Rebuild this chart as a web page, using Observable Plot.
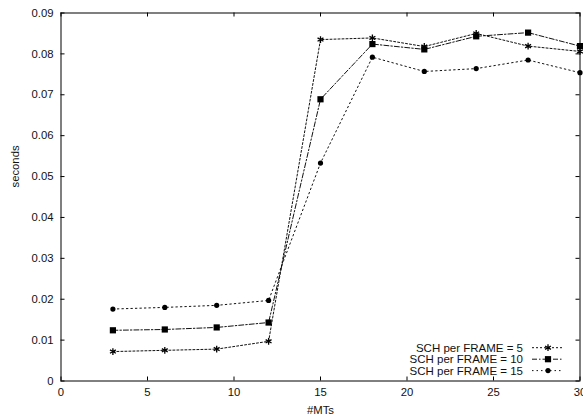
<!DOCTYPE html>
<html>
<head>
<meta charset="utf-8">
<script src="https://cdn.jsdelivr.net/npm/d3@7"></script>
<script src="https://cdn.jsdelivr.net/npm/@observablehq/plot@0.6"></script>
<style>
  body { margin: 0; background: #fff; }
  #chart { position: relative; width: 583px; height: 420px; overflow: hidden; }
  #chart svg { position: absolute; left: 0; top: 0; }
</style>
</head>
<body>
<div id="chart"></div>
<script>
// Number of MTs on the x axis
const mts = [3, 6, 9, 12, 15, 18, 21, 24, 27, 30];

// Scheduling time (seconds) for each SCH-per-FRAME setting
const sch5  = [0.0072, 0.0075, 0.0078, 0.0097, 0.0835, 0.0839, 0.0818, 0.0850, 0.0819, 0.0806];
const sch10 = [0.0124, 0.0126, 0.0131, 0.0143, 0.0689, 0.0824, 0.0811, 0.0843, 0.0852, 0.0819];
const sch15 = [0.0176, 0.0180, 0.0185, 0.0197, 0.0533, 0.0792, 0.0757, 0.0764, 0.0785, 0.0754];

const seriesNames = ["SCH per FRAME = 5", "SCH per FRAME = 10", "SCH per FRAME = 15"];
const xTicks = [0, 5, 10, 15, 20, 25, 30];
const yTicks = [0, 0.01, 0.02, 0.03, 0.04, 0.05, 0.06, 0.07, 0.08, 0.09];

const W = 583, H = 420;
const mL = 60.5, mR = 3.5, mT = 12.5, mB = 39.5;
const innerW = W - mL - mR, innerH = H - mT - mB;
const font = "'Liberation Sans', Arial, Helvetica, sans-serif";
const ink = "#111";

const styles = [
  {values: sch5,  dash: "2,2",      symbol: "asterisk", r: 3.2},
  {values: sch10, dash: "5,2,1.5,2", symbol: "square",  r: 3.5},
  {values: sch15, dash: "1.5,3",    symbol: "circle",   r: 2.6}
];

const rows = styles.map((s, i) => s.values.map((v, j) => ({x: mts[j], y: v, series: seriesNames[i]})));

const marks = [
  Plot.frame({stroke: "#000", strokeWidth: 1}),
  // inward ticks on all four sides
  Plot.tickX(xTicks, {x: d => d, insetTop: innerH - 4, stroke: "#000"}),
  Plot.tickX(xTicks, {x: d => d, insetBottom: innerH - 4, stroke: "#000"}),
  Plot.tickY(yTicks, {y: d => d, insetRight: innerW - 4, stroke: "#000"}),
  Plot.tickY(yTicks, {y: d => d, insetLeft: innerW - 4, stroke: "#000"}),
  Plot.axisX(xTicks, {tickSize: 0, tickPadding: 7, label: null, fontSize: 11.3, tickFormat: d => String(d)}),
  Plot.axisY(yTicks, {tickSize: 0, tickPadding: 7.5, label: null, fontSize: 11.3,
    tickFormat: d => d === 0 ? "0" : d.toFixed(2)}),
  Plot.text(["#MTs"], {frameAnchor: "bottom", dy: 29, lineAnchor: "middle", fontSize: 11.3, fill: ink}),
  Plot.text(["seconds"], {frameAnchor: "left", dx: -46, dy: -9.5, rotate: -90, lineAnchor: "middle", fontSize: 11.3, fill: ink})
];

styles.forEach((s, i) => {
  marks.push(Plot.line(rows[i], {x: "x", y: "y", stroke: ink, strokeWidth: 1, strokeDasharray: s.dash}));
  if (s.symbol === "asterisk") {
    marks.push(Plot.dot(rows[i], {x: "x", y: "y", symbol: "asterisk", r: s.r, stroke: "#000", strokeWidth: 1.3}));
  } else {
    marks.push(Plot.dot(rows[i], {x: "x", y: "y", symbol: s.symbol, r: s.r, fill: "#000", stroke: "none"}));
  }
});

const chart = Plot.plot({
  width: W,
  height: H,
  marginLeft: mL,
  marginRight: mR,
  marginTop: mT,
  marginBottom: mB,
  style: {fontFamily: font, fontSize: "11.3px", color: ink, background: "transparent"},
  x: {domain: [0, 30], axis: null},
  y: {domain: [0, 0.09], axis: null},
  marks
});
document.getElementById("chart").appendChild(chart);

// Key in the lower-right corner of the plot area
const key = d3.select("#chart").append("svg")
  .attr("width", W).attr("height", H)
  .style("pointer-events", "none");
const keyRows = [347.7, 359.2, 370.6];
const symGen = {
  asterisk: d3.symbol(d3.symbolAsterisk, Math.PI * 3.2 * 3.2),
  square: d3.symbol(d3.symbolSquare, Math.PI * 3.5 * 3.5)
};
styles.forEach((s, i) => {
  const y = keyRows[i];
  key.append("text")
    .attr("x", 523).attr("y", y).attr("dy", "0.35em")
    .attr("text-anchor", "end")
    .attr("font-family", font).attr("font-size", 11.5)
    .attr("fill", ink)
    .text(seriesNames[i]);
  key.append("line")
    .attr("x1", 532).attr("x2", 563).attr("y1", y).attr("y2", y)
    .attr("stroke", ink).attr("stroke-width", 1)
    .attr("stroke-dasharray", s.dash);
  if (s.symbol === "circle") {
    key.append("circle").attr("cx", 548).attr("cy", y).attr("r", s.r).attr("fill", "#000");
  } else if (s.symbol === "square") {
    key.append("path").attr("transform", `translate(548,${y})`).attr("d", symGen.square()).attr("fill", "#000");
  } else {
    key.append("path").attr("transform", `translate(548,${y})`).attr("d", symGen.asterisk())
      .attr("fill", "none").attr("stroke", "#000").attr("stroke-width", 1.3);
  }
});
</script>
</body>
</html>
